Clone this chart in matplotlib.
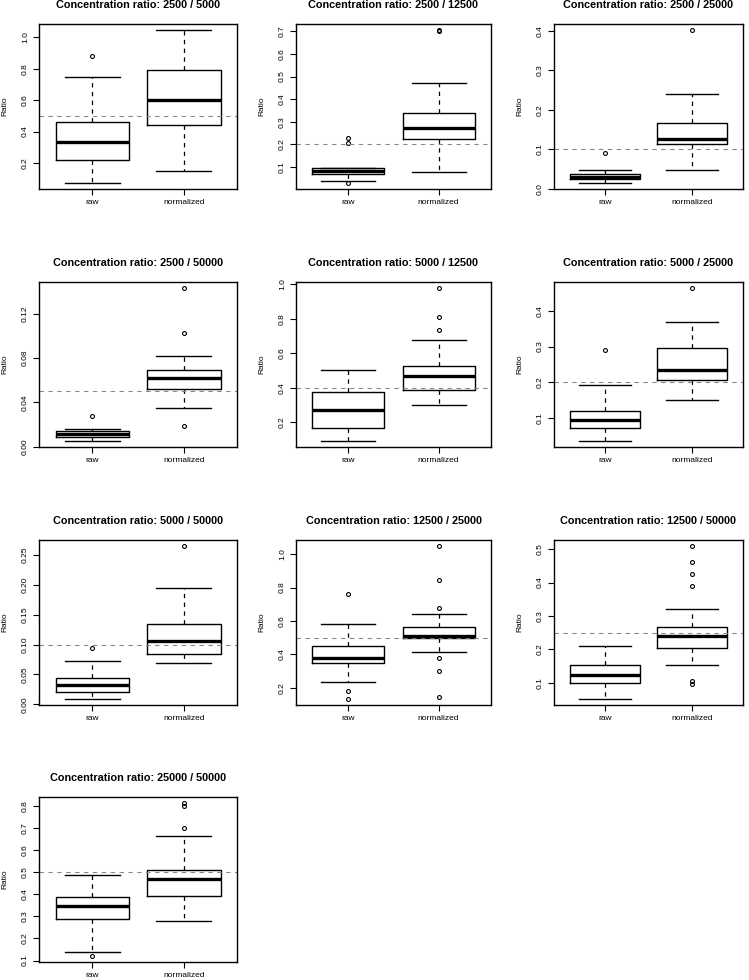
import matplotlib
matplotlib.use("Agg")
import matplotlib.pyplot as plt

plt.rcParams['font.family'] = ['Liberation Sans', 'DejaVu Sans']

groups = ["raw", "normalized"]

titles = [
    "Concentration ratio: 2500 / 5000",
    "Concentration ratio: 2500 / 12500",
    "Concentration ratio: 2500 / 25000",
    "Concentration ratio: 2500 / 50000",
    "Concentration ratio: 5000 / 12500",
    "Concentration ratio: 5000 / 25000",
    "Concentration ratio: 5000 / 50000",
    "Concentration ratio: 12500 / 25000",
    "Concentration ratio: 12500 / 50000",
    "Concentration ratio: 25000 / 50000",
]

# expected ratio (dashed line)
expected = [0.5, 0.2, 0.1, 0.05, 0.4, 0.2, 0.1, 0.5, 0.25, 0.5]

# box stats: [whislo, q1, med, q3, whishi]
raw_stats = [
    [0.074, 0.221, 0.337, 0.461, 0.748],
    [0.039, 0.069, 0.084, 0.0955, 0.0955],
    [0.0145, 0.0256, 0.030, 0.0375, 0.048],
    [0.0052, 0.0091, 0.0112, 0.0137, 0.0155],
    [0.093, 0.165, 0.274, 0.373, 0.501],
    [0.035, 0.071, 0.0943, 0.120, 0.192],
    [0.009, 0.020, 0.033, 0.0435, 0.0722],
    [0.232, 0.345, 0.379, 0.448, 0.583],
    [0.0517, 0.100, 0.122, 0.153, 0.2106],
    [0.139, 0.288, 0.347, 0.387, 0.4865],
]
raw_fliers = [
    [0.882],
    [0.228, 0.208, 0.030],
    [0.090],
    [0.028],
    [],
    [0.290],
    [0.0948],
    [0.764, 0.181, 0.133],
    [],
    [0.121],
]

norm_stats = [
    [0.147, 0.444, 0.598, 0.793, 1.045],
    [0.076, 0.225, 0.272, 0.337, 0.470],
    [0.048, 0.113, 0.125, 0.167, 0.2405],
    [0.0353, 0.0517, 0.0617, 0.069, 0.0814],
    [0.303, 0.390, 0.466, 0.526, 0.674],
    [0.150, 0.205, 0.234, 0.297, 0.368],
    [0.069, 0.0846, 0.1055, 0.134, 0.1947],
    [0.415, 0.496, 0.510, 0.5625, 0.641],
    [0.154, 0.2045, 0.240, 0.266, 0.321],
    [0.277, 0.390, 0.468, 0.511, 0.665],
]
norm_fliers = [
    [],
    [0.705, 0.700],
    [0.402],
    [0.143, 0.1024, 0.0189],
    [0.977, 0.812, 0.734],
    [0.464],
    [0.265],
    [1.048, 0.847, 0.675, 0.379, 0.302, 0.147],
    [0.509, 0.460, 0.4266, 0.390, 0.105, 0.095],
    [0.812, 0.800, 0.699],
]

ytick_labels = [
    ["0.2", "0.4", "0.6", "0.8", "1.0"],
    ["0.1", "0.2", "0.3", "0.4", "0.5", "0.6", "0.7"],
    ["0.0", "0.1", "0.2", "0.3", "0.4"],
    ["0.00", "0.04", "0.08", "0.12"],
    ["0.2", "0.4", "0.6", "0.8", "1.0"],
    ["0.1", "0.2", "0.3", "0.4"],
    ["0.00", "0.05", "0.10", "0.15", "0.20", "0.25"],
    ["0.2", "0.4", "0.6", "0.8", "1.0"],
    ["0.1", "0.2", "0.3", "0.4", "0.5"],
    ["0.1", "0.2", "0.3", "0.4", "0.5", "0.6", "0.7", "0.8"],
]

W, H = 749, 980
fig = plt.figure(figsize=(W / 100, H / 100), dpi=100)

# panel layout in pixels
col_left = [39, 296, 554]
col_width = [198, 195, 189]
row_top = [24, 282, 540, 797]
box_h = 165

for i in range(len(titles)):
    r, c = divmod(i, 3)
    ax = fig.add_axes([col_left[c] / W, 1 - (row_top[r] + box_h) / H,
                       col_width[c] / W, box_h / H])

    stats = []
    for s, f, lab in [(raw_stats[i], raw_fliers[i], groups[0]),
                      (norm_stats[i], norm_fliers[i], groups[1])]:
        stats.append(dict(whislo=s[0], q1=s[1], med=s[2], q3=s[3],
                          whishi=s[4], fliers=f, label=lab))

    ax.bxp(stats, positions=[1, 2], widths=0.8, capwidths=0.6,
           boxprops=dict(color='black', lw=1.0),
           whiskerprops=dict(color='black', lw=0.9, ls=(0, (3.5, 3.5))),
           capprops=dict(color='black', lw=1.0),
           medianprops=dict(color='black', lw=2.4, solid_capstyle='butt'),
           flierprops=dict(marker='o', markersize=2.8, mfc='none',
                           mec='black', mew=0.8))

    ax.axhline(expected[i], color='#888888', lw=0.8, ls=(0, (4, 4)))

    # R-style 4% padding around the data range
    vals = raw_stats[i] + norm_stats[i] + raw_fliers[i] + norm_fliers[i]
    lo, hi = min(vals), max(vals)
    pad = 0.04 * (hi - lo)
    ax.set_ylim(lo - pad, hi + pad)
    ax.set_xlim(0.42, 2.58)

    ax.set_yticks([float(t) for t in ytick_labels[i]])
    ax.set_yticklabels(ytick_labels[i], rotation=90, va='center')
    ax.set_xticks([1, 2])
    ax.set_xticklabels(groups)
    ax.tick_params(direction='out', length=4.3, width=0.8, pad=3,
                   labelsize=6, colors='black')
    for sp in ax.spines.values():
        sp.set_linewidth(1.0)

    ax.set_ylabel("Ratio", fontsize=6)
    ax.yaxis.set_label_coords(-31 / col_width[c], 0.5)
    ax.text(0.5, 1 + 19 / box_h, titles[i], transform=ax.transAxes,
            ha='center', va='center', fontsize=7.8, fontweight='bold')

fig.savefig("out.png", dpi=100)
